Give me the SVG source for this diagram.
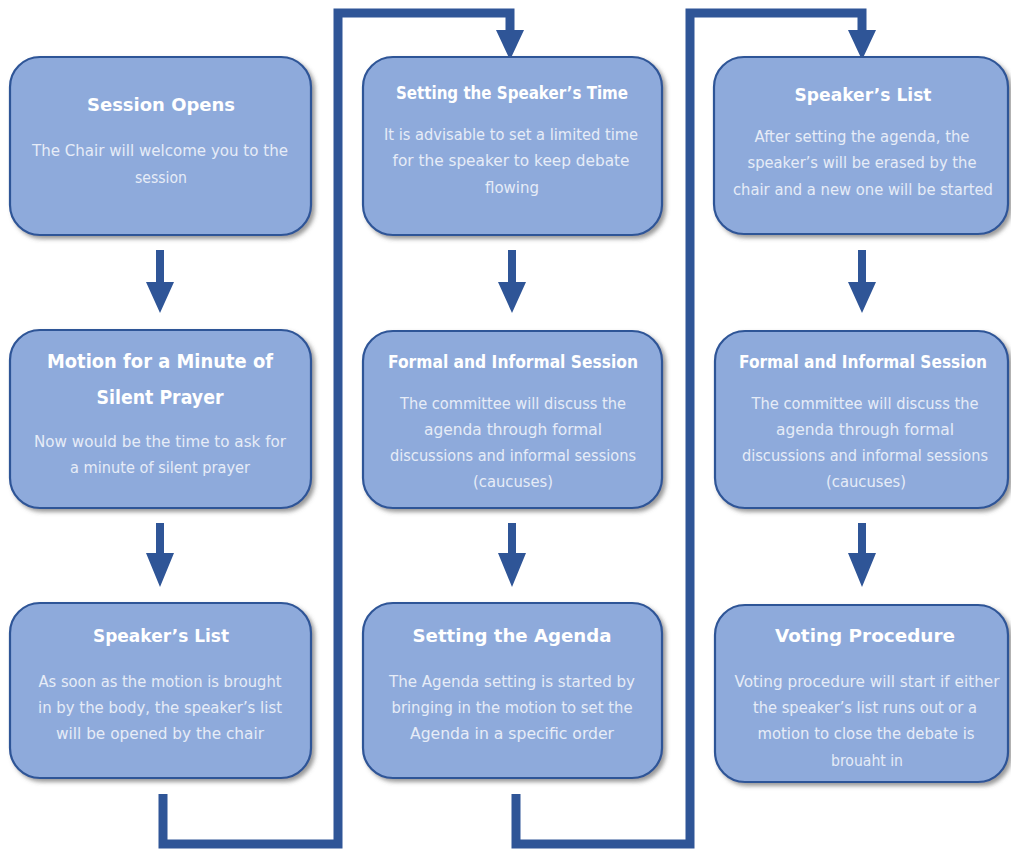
<svg xmlns="http://www.w3.org/2000/svg" width="1011" height="850" viewBox="0 0 1011 850">
<defs>
<filter id="sh" x="-10%" y="-10%" width="125%" height="130%">
<feDropShadow dx="3" dy="3" stdDeviation="2" flood-color="#555" flood-opacity="0.6"/>
</filter>
<style>
.box{fill:#8eaadb;stroke:#2f5597;stroke-width:2.2;filter:url(#sh)}
.t{font-family:"DejaVu Sans",sans-serif;font-weight:bold;fill:#ffffff;text-anchor:middle}
.b{font-family:"DejaVu Sans",sans-serif;font-size:15px;fill:#e6ecf7;text-anchor:middle}
.con{fill:none;stroke:#2f5597;stroke-width:9;stroke-linejoin:miter}
.ah{fill:#2f5597}
</style>
</defs>
<rect width="1011" height="850" fill="#ffffff"/>

<g id="connectors">
<path class="con" d="M163 794 V844 H338 V13 H510 V31"/>
<polygon class="ah" points="496,30 524,30 510,60"/>
<path class="con" d="M516 794 V844 H690 V13 H862 V31"/>
<polygon class="ah" points="848,30 876,30 862,60"/>
<polygon class="ah" points="156,250 164,250 164,282 174,282 160,313 146,282 156,282"/>
<polygon class="ah" points="156,523 164,523 164,553 174,553 160,587 146,553 156,553"/>
<polygon class="ah" points="508,250 516,250 516,282 526,282 512,313 498,282 508,282"/>
<polygon class="ah" points="508,523 516,523 516,553 526,553 512,587 498,553 508,553"/>
<polygon class="ah" points="858,250 866,250 866,282 876,282 862,313 848,282 858,282"/>
<polygon class="ah" points="858,523 866,523 866,553 876,553 862,587 848,553 858,553"/>
</g>

<g id="n1">
<rect class="box" x="10" y="57" width="301" height="178" rx="30"/>
<text class="t" x="161" y="111" font-size="18" textLength="148" lengthAdjust="spacingAndGlyphs">Session Opens</text>
<text class="b" x="160" y="156" textLength="256" lengthAdjust="spacingAndGlyphs">The Chair will welcome you to the</text>
<text class="b" x="161" y="183" textLength="52" lengthAdjust="spacingAndGlyphs">session</text>
</g>

<g id="n2">
<rect class="box" x="10" y="330" width="301" height="178" rx="30"/>
<text class="t" x="160" y="368" font-size="20" textLength="226" lengthAdjust="spacingAndGlyphs">Motion for a Minute of</text>
<text class="t" x="160" y="404" font-size="20" textLength="127" lengthAdjust="spacingAndGlyphs">Silent Prayer</text>
<text class="b" x="160" y="447" textLength="252" lengthAdjust="spacingAndGlyphs">Now would be the time to ask for</text>
<text class="b" x="160" y="473" textLength="180" lengthAdjust="spacingAndGlyphs">a minute  of silent prayer</text>
</g>

<g id="n3">
<rect class="box" x="10" y="603" width="301" height="175" rx="30"/>
<text class="t" x="161" y="642" font-size="18" textLength="136" lengthAdjust="spacingAndGlyphs">Speaker’s List</text>
<text class="b" x="160" y="687" textLength="243" lengthAdjust="spacingAndGlyphs">As soon as the motion is brought</text>
<text class="b" x="160" y="713" textLength="244" lengthAdjust="spacingAndGlyphs">in by the body, the speaker’s list</text>
<text class="b" x="160" y="739" textLength="208" lengthAdjust="spacingAndGlyphs">will be opened by the chair</text>
</g>

<g id="n4">
<rect class="box" x="363" y="57" width="299" height="178" rx="30"/>
<text class="t" x="512" y="99" font-size="17" textLength="232" lengthAdjust="spacingAndGlyphs">Setting the Speaker’s Time</text>
<text class="b" x="511" y="140" textLength="254" lengthAdjust="spacingAndGlyphs">It is advisable  to set a limited time</text>
<text class="b" x="511" y="166" textLength="237" lengthAdjust="spacingAndGlyphs">for the speaker to keep debate</text>
<text class="b" x="512" y="193" textLength="54" lengthAdjust="spacingAndGlyphs">flowing</text>
</g>

<g id="n5">
<rect class="box" x="363" y="331" width="299" height="177" rx="30"/>
<text class="t" x="513" y="368" font-size="17" textLength="250" lengthAdjust="spacingAndGlyphs">Formal and Informal Session</text>
<text class="b" x="513" y="409" textLength="226" lengthAdjust="spacingAndGlyphs">The committee will discuss the</text>
<text class="b" x="513" y="435" textLength="178" lengthAdjust="spacingAndGlyphs">agenda through formal</text>
<text class="b" x="513" y="461" textLength="246" lengthAdjust="spacingAndGlyphs">discussions and informal sessions</text>
<text class="b" x="513" y="487" textLength="80" lengthAdjust="spacingAndGlyphs">(caucuses)</text>
</g>

<g id="n6">
<rect class="box" x="363" y="603" width="299" height="175" rx="30"/>
<text class="t" x="512" y="642" font-size="18" textLength="199" lengthAdjust="spacingAndGlyphs">Setting the Agenda</text>
<text class="b" x="512" y="687" textLength="246" lengthAdjust="spacingAndGlyphs">The Agenda setting is started by</text>
<text class="b" x="512" y="713" textLength="241" lengthAdjust="spacingAndGlyphs">bringing in the motion to set the</text>
<text class="b" x="512" y="739" textLength="204" lengthAdjust="spacingAndGlyphs">Agenda in a specific order</text>
</g>

<g id="n7">
<rect class="box" x="714" y="57" width="294" height="177" rx="30"/>
<text class="t" x="863" y="101" font-size="18" textLength="137" lengthAdjust="spacingAndGlyphs">Speaker’s List</text>
<text class="b" x="862" y="142" textLength="215" lengthAdjust="spacingAndGlyphs">After setting the agenda, the</text>
<text class="b" x="862" y="168" textLength="229" lengthAdjust="spacingAndGlyphs">speaker’s will be erased by the</text>
<text class="b" x="863" y="195" textLength="260" lengthAdjust="spacingAndGlyphs">chair and a new one will be started</text>
</g>

<g id="n8">
<rect class="box" x="715" y="331" width="293" height="177" rx="30"/>
<text class="t" x="863" y="368" font-size="17" textLength="248" lengthAdjust="spacingAndGlyphs">Formal and Informal Session</text>
<text class="b" x="865" y="409" textLength="227" lengthAdjust="spacingAndGlyphs">The committee will discuss the</text>
<text class="b" x="865" y="435" textLength="178" lengthAdjust="spacingAndGlyphs">agenda through formal</text>
<text class="b" x="865" y="461" textLength="246" lengthAdjust="spacingAndGlyphs">discussions and informal sessions</text>
<text class="b" x="866" y="487" textLength="80" lengthAdjust="spacingAndGlyphs">(caucuses)</text>
</g>

<g id="n9">
<rect class="box" x="715" y="605" width="293" height="177" rx="30"/>
<text class="t" x="865" y="642" font-size="18" textLength="180" lengthAdjust="spacingAndGlyphs">Voting Procedure</text>
<text class="b" x="867" y="687" textLength="265" lengthAdjust="spacingAndGlyphs">Voting procedure will start if either</text>
<text class="b" x="865" y="713" textLength="224" lengthAdjust="spacingAndGlyphs">the speaker’s list runs out or a</text>
<text class="b" x="866" y="739" textLength="217" lengthAdjust="spacingAndGlyphs">motion to close the debate is</text>
<text class="b" x="867" y="766" textLength="72" lengthAdjust="spacingAndGlyphs">brouaht in</text>
</g>
</svg>
